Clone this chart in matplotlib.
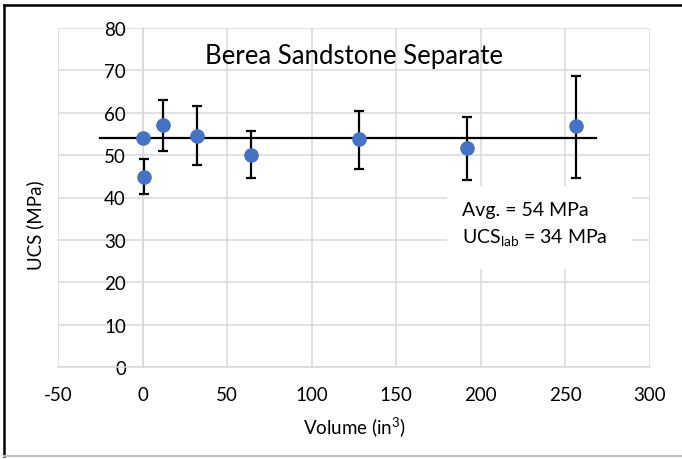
import matplotlib
matplotlib.use("Agg")
import matplotlib.pyplot as plt
from matplotlib.lines import Line2D
from matplotlib.patches import Rectangle

plt.rcParams['font.family'] = ['Lato', 'DejaVu Sans']
plt.rcParams['mathtext.fontset'] = 'custom'
plt.rcParams['mathtext.rm'] = 'Lato'
plt.rcParams['mathtext.it'] = 'Lato'
plt.rcParams['axes.unicode_minus'] = False

# specimen volume (in^3), UCS (MPa) and error bar limits
volume = [0, 1, 12, 32, 64, 128, 192, 256]
ucs = [54.0, 44.9, 57.2, 54.6, 50.1, 53.7, 51.6, 56.8]
ucs_low = [54.0, 40.9, 51.0, 47.6, 44.5, 46.8, 44.1, 44.6]
ucs_high = [54.0, 49.0, 63.0, 61.7, 55.8, 60.4, 59.1, 68.7]

avg_ucs = 54
ucs_lab = 34
avg_span = [-25, 268]

xticks = [-50, 0, 50, 100, 150, 200, 250, 300]
yticks = [0, 10, 20, 30, 40, 50, 60, 70, 80]

W, H = 682, 460
fig = plt.figure(figsize=(W / 100, H / 100), dpi=100)
ax = fig.add_axes([58 / W, (H - 368) / H, 592 / W, 339 / H])

grid = '#d9d9d9'
ax.set_xlim(-50, 300)
ax.set_ylim(0, 80)
ax.set_xticks(xticks)
ax.set_yticks(yticks)
ax.grid(True, color=grid, linewidth=1.1)
ax.set_axisbelow(True)

for side in ['top', 'right']:
    ax.spines[side].set_visible(False)
ax.spines['left'].set_position(('data', 0))
ax.spines['left'].set_color(grid)
ax.spines['bottom'].set_color(grid)
ax.spines['left'].set_linewidth(1.1)
ax.spines['bottom'].set_linewidth(1.1)
ax.tick_params(axis='both', length=0, labelsize=13.5, colors='#000000')
ax.tick_params(axis='y', pad=12)
ax.tick_params(axis='x', pad=14)

# average line
ax.plot(avg_span, [avg_ucs, avg_ucs], color='black', linewidth=1.6, zorder=3)

err_lo = [u - lo for u, lo in zip(ucs, ucs_low)]
err_hi = [hi - u for u, hi in zip(ucs, ucs_high)]
ax.errorbar(volume, ucs, yerr=[err_lo, err_hi], fmt='none', ecolor='black',
            elinewidth=1.6, capsize=3.5, capthick=1.6, zorder=4)
ax.plot(volume, ucs, 'o', color='#4472c4', markersize=9.5, zorder=5)

ax.text(0.5, 0.955, 'Berea Sandstone Separate', transform=ax.transAxes,
        ha='center', va='top', fontsize=18.5)

# summary box
ax.add_patch(Rectangle((0.657, 0.289), 0.3125, 0.245, transform=ax.transAxes,
                       facecolor='white', edgecolor='none', zorder=2.5))
ax.text(0.682, 0.448, f'Avg. = {avg_ucs} MPa', transform=ax.transAxes,
        ha='left', va='baseline', fontsize=14, zorder=6)
ax.text(0.682, 0.369, 'UCS$_{\\mathrm{lab}}$ = ' + f'{ucs_lab} MPa',
        transform=ax.transAxes, ha='left', va='baseline', fontsize=14, zorder=6)

ax.set_xlabel('Volume (in$^{3}$)', fontsize=13.5, labelpad=8)
fig.text(35 / W, 1 - 225 / H, 'UCS (MPa)', rotation=90, ha='center',
         va='center', fontsize=13.5)

# outer frame
fig.add_artist(Line2D([4 / W, 4 / W], [3 / H, 1 - 6 / H], color='black', linewidth=1.8))
fig.add_artist(Line2D([4 / W, 1], [1 - 6 / H, 1 - 6 / H], color='black', linewidth=1.8))
fig.add_artist(Line2D([4 / W, 1], [3 / H, 3 / H], color='#bfbfbf', linewidth=1.5))

fig.savefig('out.png', dpi=100)
